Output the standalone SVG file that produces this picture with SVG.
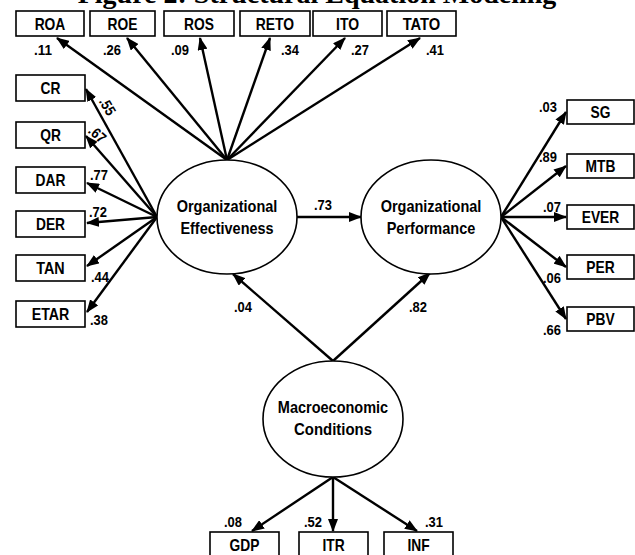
<svg xmlns="http://www.w3.org/2000/svg" width="635" height="555" viewBox="0 0 635 555">
<style>
.box{fill:#fff;stroke:#000;stroke-width:1.6}
.ell{fill:#fff;stroke:#000;stroke-width:1.6}
.lbl{font-family:"Liberation Sans",Arial,sans-serif;font-weight:bold;font-size:16.5px;text-anchor:middle;fill:#000}
.big{font-size:17px}
.num{font-family:"Liberation Sans",Arial,sans-serif;font-weight:bold;font-size:15px;text-anchor:middle;fill:#000}
.title{font-family:"Liberation Serif","Times New Roman",serif;font-weight:bold;font-size:28px;text-anchor:middle;fill:#000}
.con line{stroke:#000;stroke-width:2.4;marker-end:url(#ah)}
</style>
<defs>
<marker id="ah" markerWidth="13" markerHeight="10" refX="12" refY="5" orient="auto" markerUnits="userSpaceOnUse">
<path d="M0,0 L13,5 L0,10 Z" fill="#000"/>
</marker>
</defs>
<rect width="635" height="555" fill="#fff"/>
<text class="title" x="317" y="3">Figure 2: Structural Equation Modeling</text>

<g class="con">
<line x1="227" y1="160" x2="57" y2="38"/>
<line x1="227" y1="160" x2="127" y2="38"/>
<line x1="227" y1="160" x2="200" y2="38"/>
<line x1="227" y1="160" x2="270" y2="38"/>
<line x1="227" y1="160" x2="345" y2="38"/>
<line x1="227" y1="160" x2="420" y2="38"/>
<line x1="157" y1="217" x2="86" y2="89"/>
<line x1="157" y1="217" x2="86" y2="136"/>
<line x1="157" y1="217" x2="87" y2="183"/>
<line x1="157" y1="217" x2="87" y2="223"/>
<line x1="157" y1="217" x2="87" y2="266"/>
<line x1="157" y1="217" x2="87" y2="312"/>
<line x1="297" y1="217" x2="361" y2="217"/>
<line x1="501" y1="217" x2="566" y2="112"/>
<line x1="501" y1="217" x2="566" y2="166"/>
<line x1="501" y1="217" x2="566" y2="217"/>
<line x1="501" y1="217" x2="566" y2="267"/>
<line x1="501" y1="217" x2="566" y2="319"/>
<line x1="333" y1="361" x2="233" y2="274"/>
<line x1="333" y1="361" x2="430" y2="273"/>
<line x1="333" y1="477" x2="252" y2="531"/>
<line x1="333" y1="477" x2="333" y2="531"/>
<line x1="333" y1="477" x2="417" y2="531"/>
</g>

<g id="ROA"><rect class="box" x="16" y="11" width="68" height="25"/><text class="lbl" x="50" y="29.5" textLength="30.7" lengthAdjust="spacingAndGlyphs">ROA</text></g>
<g id="ROE"><rect class="box" x="90" y="11" width="65" height="25"/><text class="lbl" x="122.5" y="29.5" textLength="29.9" lengthAdjust="spacingAndGlyphs">ROE</text></g>
<g id="ROS"><rect class="box" x="164" y="11" width="70" height="25"/><text class="lbl" x="199" y="29.5" textLength="29.9" lengthAdjust="spacingAndGlyphs">ROS</text></g>
<g id="RETO"><rect class="box" x="240" y="11" width="70" height="25"/><text class="lbl" x="275" y="29.5" textLength="38.3" lengthAdjust="spacingAndGlyphs">RETO</text></g>
<g id="ITO"><rect class="box" x="313" y="11" width="69" height="25"/><text class="lbl" x="347.5" y="29.5" textLength="23" lengthAdjust="spacingAndGlyphs">ITO</text></g>
<g id="TATO"><rect class="box" x="387" y="11" width="69" height="25"/><text class="lbl" x="421.5" y="29.5" textLength="37.6" lengthAdjust="spacingAndGlyphs">TATO</text></g>

<g id="CR"><rect class="box" x="16" y="75" width="69" height="26"/><text class="lbl" x="50.5" y="94" textLength="19.9" lengthAdjust="spacingAndGlyphs">CR</text></g>
<g id="QR"><rect class="box" x="16" y="122" width="69" height="26"/><text class="lbl" x="50.5" y="141" textLength="20.7" lengthAdjust="spacingAndGlyphs">QR</text></g>
<g id="DAR"><rect class="box" x="16" y="167" width="69" height="26"/><text class="lbl" x="50.5" y="186" textLength="29.9" lengthAdjust="spacingAndGlyphs">DAR</text></g>
<g id="DER"><rect class="box" x="16" y="211" width="69" height="26"/><text class="lbl" x="50.5" y="230" textLength="29.1" lengthAdjust="spacingAndGlyphs">DER</text></g>
<g id="TAN"><rect class="box" x="16" y="255" width="69" height="26"/><text class="lbl" x="50.5" y="274" textLength="28.4" lengthAdjust="spacingAndGlyphs">TAN</text></g>
<g id="ETAR"><rect class="box" x="16" y="301" width="69" height="26"/><text class="lbl" x="50.5" y="320" textLength="37.6" lengthAdjust="spacingAndGlyphs">ETAR</text></g>

<g id="SG"><rect class="box" x="567" y="100" width="67" height="24"/><text class="lbl" x="600.5" y="118" textLength="19.9" lengthAdjust="spacingAndGlyphs">SG</text></g>
<g id="MTB"><rect class="box" x="567" y="154" width="67" height="24"/><text class="lbl" x="600.5" y="172" textLength="29.9" lengthAdjust="spacingAndGlyphs">MTB</text></g>
<g id="EVER"><rect class="box" x="567" y="205" width="67" height="24"/><text class="lbl" x="600.5" y="223" textLength="37.6" lengthAdjust="spacingAndGlyphs">EVER</text></g>
<g id="PER"><rect class="box" x="567" y="255" width="67" height="24"/><text class="lbl" x="600.5" y="273" textLength="28.4" lengthAdjust="spacingAndGlyphs">PER</text></g>
<g id="PBV"><rect class="box" x="567" y="307" width="67" height="24"/><text class="lbl" x="600.5" y="325" textLength="28.4" lengthAdjust="spacingAndGlyphs">PBV</text></g>

<g id="GDP"><rect class="box" x="210" y="532" width="69" height="26"/><text class="lbl" x="244.5" y="551" textLength="29.9" lengthAdjust="spacingAndGlyphs">GDP</text></g>
<g id="ITR"><rect class="box" x="299" y="532" width="69" height="26"/><text class="lbl" x="333.5" y="551" textLength="22.2" lengthAdjust="spacingAndGlyphs">ITR</text></g>
<g id="INF"><rect class="box" x="384" y="532" width="69" height="26"/><text class="lbl" x="418.5" y="551" textLength="22.2" lengthAdjust="spacingAndGlyphs">INF</text></g>

<g id="OE"><ellipse class="ell" cx="227" cy="217" rx="70" ry="57"/><text class="lbl big" x="227" y="212" textLength="100.7" lengthAdjust="spacingAndGlyphs">Organizational</text><text class="lbl big" x="227" y="234" textLength="93.2" lengthAdjust="spacingAndGlyphs">Effectiveness</text></g>
<g id="OP"><ellipse class="ell" cx="431" cy="217" rx="70" ry="57"/><text class="lbl big" x="431" y="212" textLength="100.7" lengthAdjust="spacingAndGlyphs">Organizational</text><text class="lbl big" x="431" y="234" textLength="88.6" lengthAdjust="spacingAndGlyphs">Performance</text></g>
<g id="MC"><ellipse class="ell" cx="333" cy="419" rx="70" ry="58"/><text class="lbl big" x="333" y="413" textLength="110.4" lengthAdjust="spacingAndGlyphs">Macroeconomic</text><text class="lbl big" x="333" y="435" textLength="78" lengthAdjust="spacingAndGlyphs">Conditions</text></g>

<g id="labels">
<text class="num" x="43" y="55" textLength="18" lengthAdjust="spacingAndGlyphs">.11</text>
<text class="num" x="112" y="55" textLength="18" lengthAdjust="spacingAndGlyphs">.26</text>
<text class="num" x="180" y="55" textLength="18" lengthAdjust="spacingAndGlyphs">.09</text>
<text class="num" x="290" y="55" textLength="18" lengthAdjust="spacingAndGlyphs">.34</text>
<text class="num" x="360" y="55" textLength="18" lengthAdjust="spacingAndGlyphs">.27</text>
<text class="num" x="435" y="55" textLength="18" lengthAdjust="spacingAndGlyphs">.41</text>
<text class="num" transform="translate(103,109) rotate(60)" textLength="18" lengthAdjust="spacingAndGlyphs">.55</text>
<text class="num" transform="translate(94,138) rotate(42)" textLength="18" lengthAdjust="spacingAndGlyphs">.67</text>
<text class="num" x="99" y="180" textLength="18" lengthAdjust="spacingAndGlyphs">.77</text>
<text class="num" x="98" y="217" textLength="18" lengthAdjust="spacingAndGlyphs">.72</text>
<text class="num" x="100" y="282" textLength="18" lengthAdjust="spacingAndGlyphs">.44</text>
<text class="num" x="99" y="325" textLength="18" lengthAdjust="spacingAndGlyphs">.38</text>
<text class="num" x="323" y="210" textLength="18" lengthAdjust="spacingAndGlyphs">.73</text>
<text class="num" x="243" y="312" textLength="18" lengthAdjust="spacingAndGlyphs">.04</text>
<text class="num" x="418" y="312" textLength="18" lengthAdjust="spacingAndGlyphs">.82</text>
<text class="num" x="548" y="112" textLength="18" lengthAdjust="spacingAndGlyphs">.03</text>
<text class="num" x="548" y="162" textLength="18" lengthAdjust="spacingAndGlyphs">.89</text>
<text class="num" x="552" y="212" textLength="18" lengthAdjust="spacingAndGlyphs">.07</text>
<text class="num" x="552" y="283" textLength="18" lengthAdjust="spacingAndGlyphs">.06</text>
<text class="num" x="552" y="335" textLength="18" lengthAdjust="spacingAndGlyphs">.66</text>
<text class="num" x="233" y="527" textLength="18" lengthAdjust="spacingAndGlyphs">.08</text>
<text class="num" x="313" y="527" textLength="18" lengthAdjust="spacingAndGlyphs">.52</text>
<text class="num" x="434" y="527" textLength="18" lengthAdjust="spacingAndGlyphs">.31</text>
</g>
</svg>
